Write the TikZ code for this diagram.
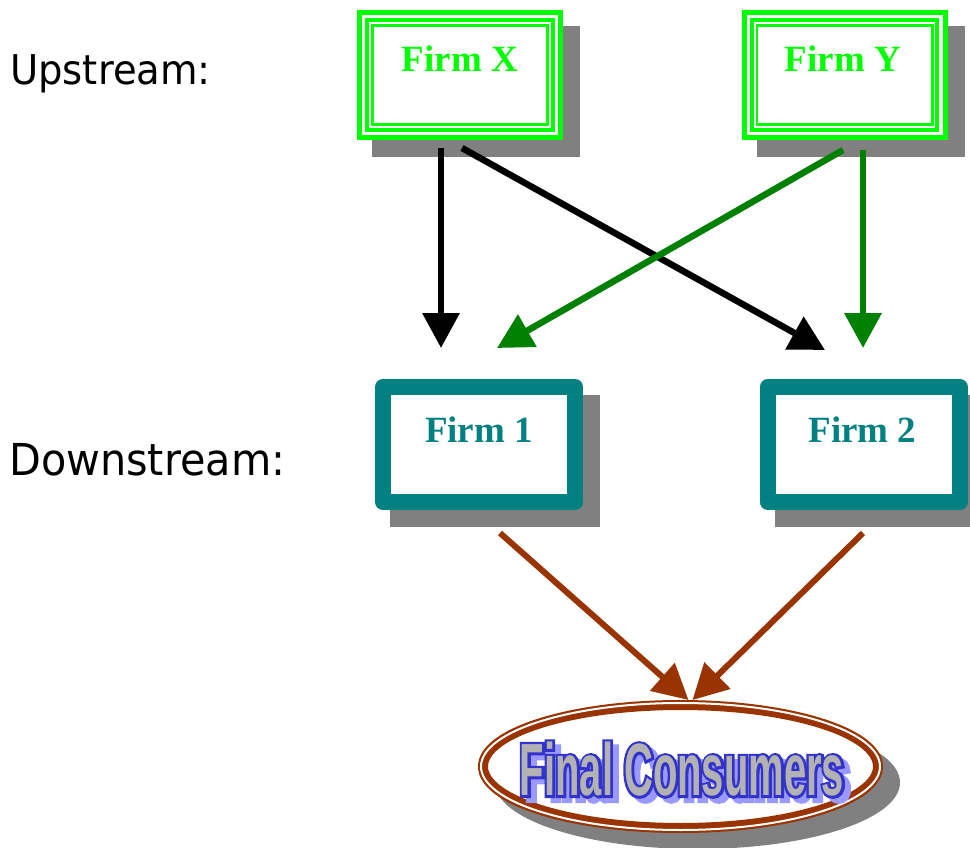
\documentclass[tikz,border=0pt]{standalone}
\usepackage{fontspec}
\setmainfont{Liberation Serif}
\newfontfamily\tierfont[FakeStretch=0.94]{DejaVu Sans}
\newfontfamily\wordartfont[FakeStretch=0.54]{Liberation Sans}
\newfontfamily\wordartedge[FakeStretch=0.54, FakeBold=7]{Liberation Sans}
\usetikzlibrary{arrows.meta, shapes.geometric, backgrounds}
\definecolor{upgreen}{RGB}{0, 255, 0}
\definecolor{linkgreen}{RGB}{0, 128, 0}
\definecolor{firmteal}{RGB}{0, 128, 128}
\definecolor{salebrown}{RGB}{153, 51, 0}
\definecolor{shadowgray}{RGB}{128, 128, 128}
\definecolor{outlineblue}{RGB}{51, 51, 204}
\definecolor{fillgray}{RGB}{178, 178, 178}
\definecolor{shadowblue}{RGB}{153, 153, 255}
% outlined text with a soft shadow: emboldened copies under the plain fill
\newcommand\wordart[1]{%
    \rlap{\kern6pt\raisebox{-5pt}{\wordartedge\bfseries\color{shadowblue}#1}}%
    \rlap{\wordartedge\bfseries\color{outlineblue}#1}%
    {\wordartfont\bfseries\color{fillgray}#1}}
\tikzset{
    upbox/.style={rectangle, draw=upgreen, fill=white, line width=5pt,
        minimum width=201pt, minimum height=125pt},
    downbox/.style={rectangle, draw=firmteal, fill=white, line width=16pt,
        line join=round, minimum width=192pt, minimum height=115pt},
    marketoval/.style={ellipse, draw=salebrown, fill=white, line width=10pt,
        minimum width=395pt, minimum height=123pt},
    boxshadow/.style={fill=shadowgray},
    firmname/.style={font=\bfseries\fontsize{37}{37}\selectfont, anchor=base,
        inner sep=0pt},
    tierlabel/.style={font=\tierfont\fontsize{41}{41}\selectfont,
        anchor=base west, inner sep=0pt},
    supply/.style={line width=6.5pt, -{Triangle[width=36pt, length=35pt]}},
}

\begin{document}
\begin{tikzpicture}[x=1pt, y=-1pt]
    \useasboundingbox (0, 0) rectangle (970, 848);
    \node[tierlabel] (uplabel) at (10, 85) {Upstream:};
    \node[tierlabel, font=\tierfont\fontsize{44}{44}\selectfont] (downlabel)
        at (9, 475) {Downstream:};
    % firms
    \node[upbox] (fx) at (460, 75) {};
    \node[upbox] (fy) at (844.5, 75) {};
    \node[downbox] (f1) at (479, 444.5) {};
    \node[downbox] (f2) at (863.5, 444.5) {};
    \node[marketoval] (fc) at (680.5, 766.5) {};
    \begin{scope}[on background layer]
        \foreach \f in {fx, fy, f1, f2}
            \fill[boxshadow] ([shift={(15, 16)}]\f.north west) rectangle
                ([shift={(17, 17)}]\f.south east);
        \fill[boxshadow] ([shift={(17, 16)}]fc.center) ellipse
            [x radius=202.5pt, y radius=66.5pt];
    \end{scope}
    \foreach \f in {fx, fy} {
        \draw[upgreen, line width=4pt] ([shift={(10.3, 10.3)}]\f.north west)
            rectangle ([shift={(-10.3, -10.3)}]\f.south east);
        \draw[upgreen, line width=2.6pt] ([shift={(15.3, 15.3)}]\f.north west)
            rectangle ([shift={(-15.3, -15.3)}]\f.south east);
    }
    \draw[white, line width=2pt] (fc.center) ellipse
        [x radius=199.5pt, y radius=63.5pt];
    \node[firmname, text=upgreen] (fxname) at ([shift={(0, 62)}]fx.north)
        {Firm X};
    \node[firmname, text=upgreen] (fyname) at ([shift={(-1.5, 62)}]fy.north)
        {Firm Y};
    \node[firmname, text=firmteal] (f1name) at ([shift={(0, 63)}]f1.north)
        {Firm 1};
    \node[firmname, text=firmteal] (f2name) at ([shift={(-1, 63)}]f2.north)
        {Firm 2};
    \node[anchor=base, inner sep=0pt, font=\fontsize{74}{74}\selectfont]
        (fcname) at (682, 795.5) {\wordart{Final Consumers}};
    % supply links
    \draw[supply] ([shift={(-19, 8)}]fx.south) -- ([shift={(-38, -31)}]f1.north);
    \draw[supply] ([shift={(2, 8)}]fx.south) -- ([shift={(-38.5, -29)}]f2.north);
    \draw[supply, linkgreen] ([shift={(-1.5, 10)}]fy.south) --
        ([shift={(18, -31)}]f1.north);
    \draw[supply, linkgreen] ([shift={(18.5, 10)}]fy.south) --
        ([shift={(-0.5, -31)}]f2.north);
    \draw[supply, salebrown, line width=6pt] ([shift={(21, 23)}]f1.south) --
        ([shift={(8, 0)}]fc.north);
    \draw[supply, salebrown, line width=6pt] ([shift={(-0.5, 23)}]f2.south) --
        ([shift={(12, 0)}]fc.north);
\end{tikzpicture}
\end{document}
